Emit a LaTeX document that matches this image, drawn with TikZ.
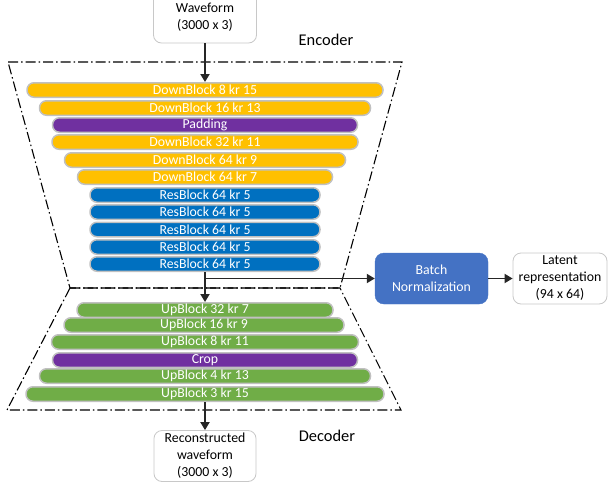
\documentclass[tikz,border=0pt]{standalone}
\usepackage{fontspec}
\setmainfont{Carlito}
\usetikzlibrary{arrows.meta}
\definecolor{gold}{HTML}{FFC000}
\definecolor{purp}{HTML}{7030A0}
\definecolor{blu}{HTML}{0070C0}
\definecolor{grn}{HTML}{70AD47}
\definecolor{bnblue}{HTML}{4472C4}
\definecolor{pillgray}{HTML}{C0C0C0}
\definecolor{boxgray}{HTML}{C8C8C8}
\definecolor{arrgray}{HTML}{262626}
\begin{document}
\begin{tikzpicture}[x=1pt,y=-1pt,
  pill/.style={draw=pillgray, line width=1.5pt, rounded corners=7pt, text=white,
    font=\fontsize{13.8}{15}\selectfont, inner sep=0pt, minimum height=14.5pt},
  iobox/.style={draw=boxgray, line width=0.8pt, rounded corners=8pt, fill=white,
    align=center, font=\fontsize{13.8}{17}\selectfont, inner sep=0pt,
    minimum height=51pt},
  arr/.style={draw=arrgray, line width=1.8pt, -{Triangle[length=8pt,width=9pt]}},
  frame/.style={draw=black, line width=1.1pt, dash pattern=on 10pt off 3pt on 1.5pt off 3pt},
  lbl/.style={font=\fontsize{16.4}{19}\selectfont}]
\useasboundingbox (0,0) rectangle (608,485);
\begin{scope}
\clip (0,0) rectangle (608,485);
% frames
\draw[frame] (8,62) -- (402,62) -- (340,288) -- (70,288) -- cycle;
\draw[frame] (70,288) -- (340,288) -- (401,410) -- (7,410) -- cycle;
\node[lbl] (enc) at (326,40) {Encoder};
\node[lbl] (dec) at (327,436) {Decoder};
% input
\node[iobox, minimum width=103pt] (wave) at (205,17.5) {Waveform\\(3000 x 3)};
% encoder blocks
\node[pill, fill=gold, minimum width=356pt] (d1) at (205,90) {DownBlock 8 kr 15};
\node[pill, fill=gold, minimum width=331pt] (d2) at (205,108) {DownBlock 16 kr 13};
\node[pill, fill=purp, minimum width=305pt] (pad) at (205,125) {Padding};
\node[pill, fill=gold, minimum width=306pt] (d3) at (205,142) {DownBlock 32 kr 11};
\node[pill, fill=gold, minimum width=281pt] (d4) at (205,160) {DownBlock 64 kr 9};
\node[pill, fill=gold, minimum width=255pt] (d5) at (205,177) {DownBlock 64 kr 7};
\node[pill, fill=blu, minimum width=230pt] (r1) at (205,195) {ResBlock 64 kr 5};
\node[pill, fill=blu, minimum width=230pt] (r2) at (205,212) {ResBlock 64 kr 5};
\node[pill, fill=blu, minimum width=230pt] (r3) at (205,229.5) {ResBlock 64 kr 5};
\node[pill, fill=blu, minimum width=230pt] (r4) at (205,247) {ResBlock 64 kr 5};
\node[pill, fill=blu, minimum width=230pt] (r5) at (205,264) {ResBlock 64 kr 5};
% decoder blocks
\node[pill, fill=grn, minimum width=256pt] (u1) at (205,310) {UpBlock 32 kr 7};
\node[pill, fill=grn, minimum width=280pt] (u2) at (204,325) {UpBlock 16 kr 9};
\node[pill, fill=grn, minimum width=307pt] (u3) at (205,342) {UpBlock 8 kr 11};
\node[pill, fill=purp, minimum width=305pt] (crop) at (205,360) {Crop};
\node[pill, fill=grn, minimum width=331pt] (u4) at (205,376) {UpBlock 4 kr 13};
\node[pill, fill=grn, minimum width=358pt] (u5) at (205,394) {UpBlock 3 kr 15};
% bottleneck
\node[draw=bnblue, fill=bnblue, rounded corners=9pt, text=white, align=center,
  font=\fontsize{13.8}{17}\selectfont, minimum width=113pt, minimum height=51pt,
  inner sep=0pt] (bn) at (431.5,278.5) {Batch\\Normalization};
\node[iobox, minimum width=94pt] (lat) at (560,278.5) {Latent\\representation\\(94 x 64)};
% output
\node[iobox, minimum width=102pt] (rec) at (205,456) {Reconstructed\\waveform\\(3000 x 3)};
% arrows
\draw[arr] (wave.south) -- (d1.north);
\draw[arr] (r5.south) -- (u1.north);
\coordinate (br) at (r5.south |- bn.west);
\draw[arr] (br) -- (bn.west);
\draw[arr] (bn.east) -- (lat.west);
\draw[arr] (u5.south) -- (rec.north);
\end{scope}
\end{tikzpicture}
\end{document}
